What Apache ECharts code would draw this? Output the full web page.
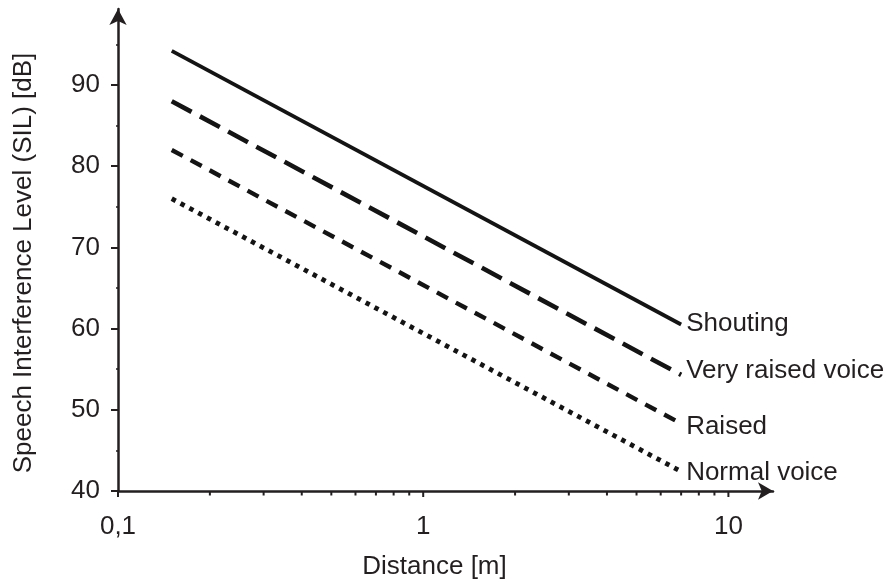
<!DOCTYPE html>
<html>
<head>
<meta charset="utf-8">
<script src="https://cdn.jsdelivr.net/npm/echarts@6/dist/echarts.min.js"></script>
<style>
html,body{margin:0;padding:0;background:#ffffff;}
#chart{width:886px;height:582px;}
</style>
</head>
<body>
<div id="chart"></div>
<script>
// ---- data ----
const distances = [0.15, 7];
const seriesNames = ['Shouting', 'Very raised voice', 'Raised', 'Normal voice'];
const shouting = [94.2, 60.5];
const veryRaised = [88.0, 54.3];
const raised = [82.0, 48.3];
const normalVoice = [76.0, 42.4];
const xTickValues = [0.1, 0.2, 0.3, 0.4, 0.5, 0.6, 0.7, 0.8, 0.9, 1, 2, 3, 4, 5, 6, 7, 8, 9, 10];
const xMajorValues = [0.1, 1, 10];
const xTickLabels = ['0,1', '1', '10'];
const yTickValues = [40, 50, 60, 70, 80, 90];
const yTickLabels = ['40', '50', '60', '70', '80', '90'];
const xAxisTitle = 'Distance [m]';
const yAxisTitle = 'Speech Interference Level (SIL) [dB]';

// ---- styling ----
const INK = '#231f20';
const FONT = "'Liberation Sans', Arial, Helvetica, sans-serif";
const FS = 26;

function pairs(ys) { return distances.map((d, i) => [d, ys[i]]); }
function isMajor(v) { return xMajorValues.some(t => Math.abs(v / t - 1) < 1e-6); }

const lineDefs = [
  { name: seriesNames[0], values: shouting,    type: 'solid',     width: 3.8, dy: -1 },
  { name: seriesNames[1], values: veryRaised,  type: [22.5, 9.5], width: 4.6, dy: -4 },
  { name: seriesNames[2], values: raised,      type: [12.5, 9],   width: 4.4, dy: 3.5 },
  { name: seriesNames[3], values: normalVoice, type: [4.5, 5.5],  width: 4.8, dy: 1 }
];

const series = lineDefs.map(d => ({
  name: d.name,
  type: 'line',
  data: pairs(d.values),
  showSymbol: false,
  symbol: 'none',
  silent: true,
  lineStyle: { color: '#141414', width: d.width, type: d.type, cap: 'butt' },
  endLabel: {
    show: true,
    formatter: '{a}',
    color: INK,
    fontFamily: FONT,
    fontSize: FS,
    distance: 5,
    offset: [0, d.dy]
  }
}));

// x-axis tick marks at 0.1 ... 10 drawn through the log scale
series.push({
  type: 'custom',
  silent: true,
  clip: false,
  z: 3,
  data: xTickValues.map(v => [v, 40, isMajor(v) ? 1 : 0]),
  renderItem: function (params, api) {
    const p = api.coord([api.value(0), api.value(1)]);
    const len = api.value(2) ? 6 : 4.5;
    return {
      type: 'line',
      shape: { x1: p[0], y1: p[1], x2: p[0], y2: p[1] + len },
      style: { stroke: INK, lineWidth: 2 }
    };
  }
});

const chart = echarts.init(document.getElementById('chart'), null, { renderer: 'canvas' });
chart.setOption({
  animation: false,
  backgroundColor: '#ffffff',
  textStyle: { fontFamily: FONT, color: INK },
  grid: { left: 118, right: 113, top: 9, bottom: 91, containLabel: false, outerBoundsMode: 'none' },
  xAxis: {
    type: 'log',
    logBase: 10,
    min: 0.1,
    max: 14.0,
    name: xAxisTitle,
    nameLocation: 'middle',
    nameGap: 63,
    nameTextStyle: { fontFamily: FONT, fontSize: FS, color: INK, padding: [0, 22, 0, 0] },
    axisLine: { show: true, lineStyle: { color: INK, width: 2.5 }, symbol: ['none', 'arrow'], symbolSize: [13, 15] },
    axisTick: { show: false },
    minorTick: { show: false },
    splitLine: { show: false },
    axisLabel: {
      fontFamily: FONT, fontSize: FS, color: INK, margin: 23,
      showMaxLabel: false,
      formatter: function (v) {
        const i = xMajorValues.findIndex(t => Math.abs(v / t - 1) < 1e-6);
        return i >= 0 ? xTickLabels[i] : '';
      }
    }
  },
  yAxis: {
    type: 'value',
    min: 40,
    max: 99.36,
    interval: 10,
    name: yAxisTitle,
    nameLocation: 'middle',
    nameGap: 81,
    nameTextStyle: { fontFamily: FONT, fontSize: FS, color: INK, padding: [0, 26, 0, 0] },
    axisLine: { show: true, lineStyle: { color: INK, width: 2.5 }, symbol: ['none', 'arrow'], symbolSize: [13, 16] },
    axisTick: { show: true, length: 7, customValues: yTickValues, lineStyle: { color: INK, width: 2 } },
    minorTick: { show: true, splitNumber: 2, length: 2, lineStyle: { color: INK, width: 1.5 } },
    splitLine: { show: false },
    axisLabel: {
      fontFamily: FONT, fontSize: FS, color: INK, margin: 18,
      padding: [8, 0, 0, 0],
      showMaxLabel: false,
      formatter: function (v) {
        const s = String(Math.round(v * 100) / 100);
        return yTickLabels.indexOf(s) >= 0 ? s : '';
      }
    }
  },
  series: series
});
</script>
</body>
</html>
